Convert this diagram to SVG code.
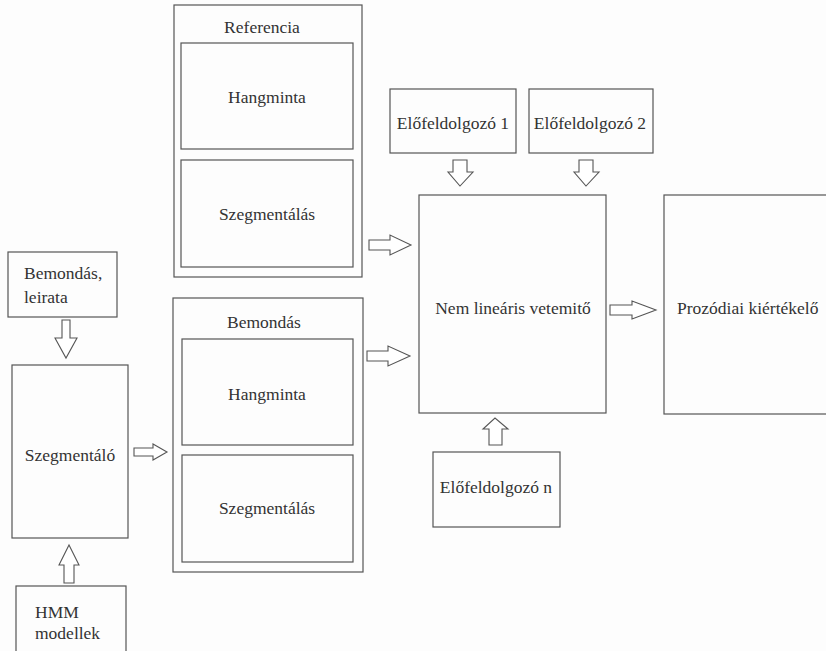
<svg xmlns="http://www.w3.org/2000/svg" width="826" height="651" viewBox="0 0 826 651">
<style>
.b{fill:none;stroke:#555;stroke-width:1.2}
.a{fill:#fff;stroke:#555;stroke-width:1.1;stroke-linejoin:miter}
.t text{font-size:17.5px;fill:#333;text-anchor:middle;dominant-baseline:central}
.t text.l{text-anchor:start}
</style>
<rect width="826" height="651" fill="#fdfdfd"/>
<g class="t" font-family="'Liberation Serif', 'DejaVu Serif', 'Times New Roman', serif">
<g id="bemondas-leirata"><rect class="b" x="8" y="252" width="109" height="65"/><text class="l" x="24" y="273">Bemondás,</text><text class="l" x="24" y="297">leirata</text></g>
<g id="szegmentalo"><rect class="b" x="12" y="365" width="116" height="173"/><text x="70" y="455">Szegmentáló</text></g>
<g id="hmm"><rect class="b" x="16" y="586" width="110" height="70"/><text class="l" x="35" y="612">HMM</text><text class="l" x="35" y="633">modellek</text></g>
<g id="referencia"><rect class="b" x="174" y="5" width="188" height="272"/><text x="262" y="27">Referencia</text>
<g id="ref-hangminta"><rect class="b" x="181" y="43" width="172" height="106"/><text x="267" y="97">Hangminta</text></g>
<g id="ref-szegmentalas"><rect class="b" x="181" y="160" width="172" height="107"/><text x="267" y="214">Szegmentálás</text></g></g>
<g id="bemondas"><rect class="b" x="173" y="298" width="190" height="274"/><text x="264" y="322">Bemondás</text>
<g id="bem-hangminta"><rect class="b" x="182" y="339" width="171" height="106"/><text x="267" y="394">Hangminta</text></g>
<g id="bem-szegmentalas"><rect class="b" x="182" y="455" width="171" height="107"/><text x="267" y="508">Szegmentálás</text></g></g>
<g id="elo1"><rect class="b" x="390" y="89" width="126" height="64"/><text x="453" y="123">Előfeldolgozó 1</text></g>
<g id="elo2"><rect class="b" x="529" y="89" width="124" height="64"/><text x="590" y="123">Előfeldolgozó 2</text></g>
<g id="nemlinearis"><rect class="b" x="419" y="195" width="187" height="218"/><text x="513" y="308">Nem lineáris vetemitő</text></g>
<g id="prozodiai"><rect class="b" x="664" y="195" width="172" height="219"/><text class="l" x="677" y="308">Prozódiai kiértékelő</text></g>
<g id="elon"><rect class="b" x="433" y="452" width="127" height="75"/><text x="496" y="487">Előfeldolgozó  n</text></g>
</g>
<g id="connectors">
<polygon class="a" points="62,320 70,320 70,338 77,338 66,358 55,338 62,338"/>
<polygon class="a" points="64,583 74,583 74,565 79,565 69,545 59,565 64,565"/>
<polygon class="a" points="134,448 153,448 153,444 167,452 153,460 153,456 134,456"/>
<polygon class="a" points="369,240 390,240 390,235 411,245 390,255 390,250 369,250"/>
<polygon class="a" points="367,351 388,351 388,346 410,356 388,366 388,361 367,361"/>
<polygon class="a" points="610,305 632,305 632,301 656,310 632,319 632,315 610,315"/>
<polygon class="a" points="453,160 467,160 467,172 473,172 460,186 448,172 453,172"/>
<polygon class="a" points="579,160 593,160 593,172 599,172 586,186 574,172 579,172"/>
<polygon class="a" points="489,445 502,445 502,429 508,429 495,418 483,429 489,429"/>
</g>
</svg>
